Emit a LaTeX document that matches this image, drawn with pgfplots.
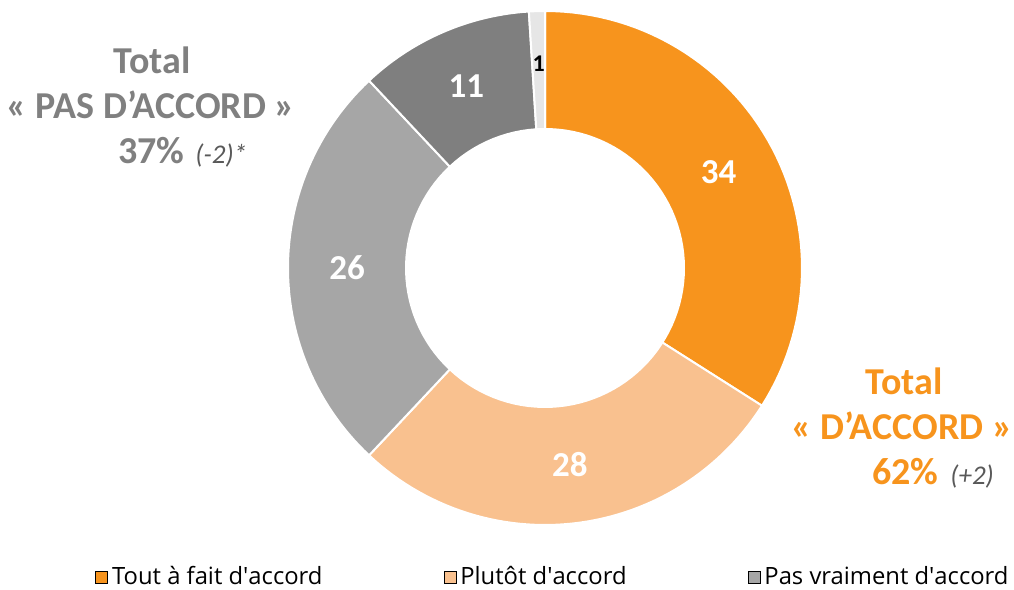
\documentclass[border=0pt]{standalone}
\usepackage{pgfplots}
\pgfplotsset{compat=1.18}
\usepackage{fontspec}
\setmainfont{Carlito}
\newfontfamily\legfont{Open Sans}
\definecolor{cA}{HTML}{F7941D}
\definecolor{cB}{HTML}{F9C18F}
\definecolor{cC}{HTML}{A6A6A6}
\definecolor{cD}{HTML}{7F7F7F}
\definecolor{cE}{HTML}{E6E6E6}
\definecolor{txtgray}{HTML}{808080}
\definecolor{notegray}{HTML}{595959}

% values (percent), clockwise from the top
\def\vA{34}\def\vB{28}\def\vC{26}\def\vD{11}\def\vE{1}
\def\cx{545}\def\cy{322}\def\ro{257}\def\ri{140}\def\rl{198}

\pgfmathsetmacro\bA{90-3.6*\vA}
\pgfmathsetmacro\bB{\bA-3.6*\vB}
\pgfmathsetmacro\bC{\bB-3.6*\vC}
\pgfmathsetmacro\bD{\bC-3.6*\vD}
\pgfmathsetmacro\bE{\bD-3.6*\vE}

\pgfmathsetmacro\mA{(90+\bA)/2}
\pgfmathsetmacro\mB{(\bA+\bB)/2}
\pgfmathsetmacro\mC{(\bB+\bC)/2}
\pgfmathsetmacro\mD{(\bC+\bD)/2}
\pgfmathsetmacro\mE{(\bD+\bE)/2}

\begin{document}
\begin{tikzpicture}
\begin{axis}[
  width=507pt, height=295pt, scale only axis,
  xmin=0, xmax=1014, ymin=0, ymax=590,
  hide axis, clip=false,
  legend image code/.code={\fill[#1] (0pt,-3pt) rectangle (6pt,3pt);},
  legend style={at={(axis cs:554,-2)}, anchor=south, draw=none, fill=none,
    inner sep=0pt, font=\legfont\fontsize{11.9}{13}\selectfont, legend columns=-1,
    /tikz/every even column/.append style={column sep=58.5pt},
    /tikz/every odd column/.append style={column sep=0pt},
    legend cell align=left},
]
\addplot[fill=cA, draw=white, line width=1pt, domain=\bA:90, samples=60, forget plot]
  ({\cx+\ro*cos(x)},{\cy+\ro*sin(x)}) -- (axis cs:\cx,\cy) -- cycle;
\addplot[fill=cB, draw=white, line width=1pt, domain=\bB:\bA, samples=60, forget plot]
  ({\cx+\ro*cos(x)},{\cy+\ro*sin(x)}) -- (axis cs:\cx,\cy) -- cycle;
\addplot[fill=cC, draw=white, line width=1pt, domain=\bC:\bB, samples=60, forget plot]
  ({\cx+\ro*cos(x)},{\cy+\ro*sin(x)}) -- (axis cs:\cx,\cy) -- cycle;
\addplot[fill=cD, draw=white, line width=1pt, domain=\bD:\bC, samples=30, forget plot]
  ({\cx+\ro*cos(x)},{\cy+\ro*sin(x)}) -- (axis cs:\cx,\cy) -- cycle;
\addplot[fill=cE, draw=white, line width=1pt, domain=\bE:\bD, samples=5, forget plot]
  ({\cx+\ro*cos(x)},{\cy+\ro*sin(x)}) -- (axis cs:\cx,\cy) -- cycle;
% hole
\addplot[fill=white, draw=none, domain=0:360, samples=120, forget plot]
  ({\cx+\ri*cos(x)},{\cy+\ri*sin(x)}) -- cycle;

% slice labels
\node[text=white, font=\fontsize{17.5}{20}\selectfont\bfseries] at (axis cs:{\cx+\rl*cos(\mA)},{\cy+\rl*sin(\mA)}) {\vA};
\node[text=white, font=\fontsize{17.5}{20}\selectfont\bfseries] at (axis cs:{\cx+\rl*cos(\mB)},{\cy+\rl*sin(\mB)}) {\vB};
\node[text=white, font=\fontsize{17.5}{20}\selectfont\bfseries] at (axis cs:{\cx+\rl*cos(\mC)},{\cy+\rl*sin(\mC)}) {\vC};
\node[text=white, font=\fontsize{17.5}{20}\selectfont\bfseries] at (axis cs:{\cx+\rl*cos(\mD)},{\cy+\rl*sin(\mD)}) {\vD};
\node[text=black, font=\fontsize{12}{14}\selectfont\bfseries] at (axis cs:{\cx+204*cos(\mE)},{\cy+204*sin(\mE)}) {\vE};

% totals
\node[anchor=base, text=txtgray, font=\fontsize{19}{22}\selectfont\bfseries] at (axis cs:152,516) {Total};
\node[anchor=base, text=txtgray, font=\fontsize{19}{22}\selectfont\bfseries] at (axis cs:151,471) {« PAS D’ACCORD »};
\node[anchor=base west, inner sep=0pt, text=txtgray, font=\fontsize{19}{22}\selectfont\bfseries] at (axis cs:118,426) {37\%};
\node[anchor=base west, inner sep=0pt, text=notegray, font=\fontsize{13.5}{15}\selectfont\itshape] at (axis cs:195,426) {(-2)*};

\node[anchor=base, text=cA, font=\fontsize{19}{22}\selectfont\bfseries] at (axis cs:904,195) {Total};
\node[anchor=base, text=cA, font=\fontsize{19}{22}\selectfont\bfseries] at (axis cs:902,150) {« D’ACCORD »};
\node[anchor=base west, inner sep=0pt, text=cA, font=\fontsize{19}{22}\selectfont\bfseries] at (axis cs:872,105) {62\%};
\node[anchor=base west, inner sep=0pt, text=notegray, font=\fontsize{13.5}{15}\selectfont\itshape] at (axis cs:950,105) {(+2)};

\addlegendimage{fill=cA}
\addlegendentry{Tout à fait d\textquotesingle accord}
\addlegendimage{fill=cB}
\addlegendentry{Plutôt d\textquotesingle accord}
\addlegendimage{fill=cC}
\addlegendentry{Pas vraiment d\textquotesingle accord}
\end{axis}
\pgfresetboundingbox
\path (current axis.south west) rectangle (current axis.north east);
\end{tikzpicture}
\end{document}
